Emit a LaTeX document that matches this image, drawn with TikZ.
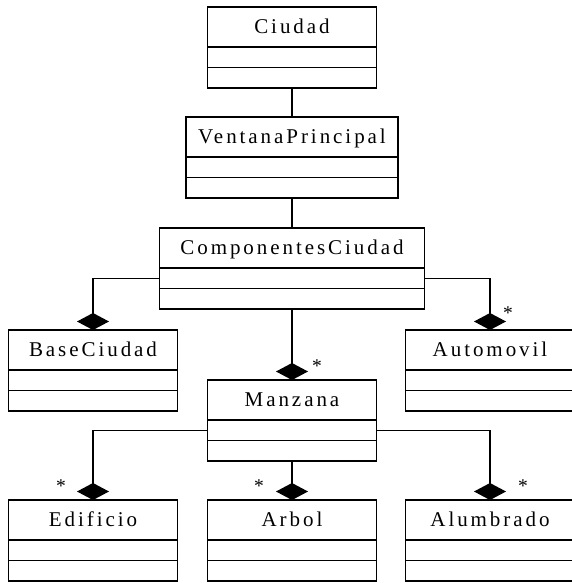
\documentclass[tikz,border=0pt]{standalone}
\usepackage{fontspec}
\setmainfont{Liberation Serif}[LetterSpace=14]
\usetikzlibrary{positioning,arrows.meta}

\tikzset{
  classname/.style={draw, line width=1.2pt, outer sep=0pt, inner sep=0pt,
    minimum width=169pt, minimum height=40pt, text height=15pt, text depth=2pt,
    font=\fontsize{21}{24}\selectfont},
  compartment/.style={draw, line width=1.2pt, outer sep=0pt, inner sep=0pt,
    minimum width=169pt, minimum height=20.5pt},
  assoc/.style={line width=1.2pt},
  composition/.style={line width=1.2pt, {Diamond[length=17pt,width=32pt]}-},
  mult/.style={anchor=base, inner sep=0pt, font=\fontsize{19.5}{22}\selectfont}
}

% class box: name, position, width, text
\newcommand\umlclass[4]{%
  \node[classname, minimum width=#3] (#1) at #2 {#4};
  \node[compartment, minimum width=#3, below=0pt of #1] (#1-a) {};
  \node[compartment, minimum width=#3, below=0pt of #1-a] (#1-b) {};
}

\begin{document}
\begin{tikzpicture}[x=1pt,y=-1pt]
  \useasboundingbox (0,0) rectangle (571,583);

  % classes
  \umlclass{ciudad}{(292,27)}{169pt}{Ciudad}
  \umlclass{ventana}{(292,137)}{212pt}{VentanaPrincipal}
  \draw[line width=2.4pt] (ventana.south west) -- (ventana.south east);
  \umlclass{comp}{(292,248)}{265pt}{ComponentesCiudad}
  \umlclass{base}{(93,350)}{169pt}{BaseCiudad}
  \umlclass{auto}{(490,350)}{169pt}{Automovil}
  \umlclass{manzana}{(292,400)}{169pt}{Manzana}
  \umlclass{edificio}{(93,520)}{169pt}{Edificio}
  \umlclass{arbol}{(292,520)}{169pt}{Arbol}
  \umlclass{alumbrado}{(490,520)}{169pt}{Alumbrado}

  % associations
  \draw[assoc] (ciudad-b.south) -- (ventana.north);
  \draw[assoc] (ventana-b.south) -- (comp.north);

  % compositions
  \draw[composition] (base.north) |- (comp-a.west);
  \draw[composition] (auto.north) |- (comp-a.east);
  \draw[composition] (manzana.north) -- (comp-b.south);
  \draw[composition] (edificio.north) |- (manzana-a.west);
  \draw[composition] (arbol.north) -- (manzana-b.south);
  \draw[composition] (alumbrado.north) |- (manzana-a.east);

  % multiplicities
  \node[mult] (m-auto) at ([xshift=18pt,yshift=11pt]auto.north) {*};
  \node[mult] (m-manzana) at ([xshift=25pt,yshift=7.5pt]manzana.north) {*};
  \node[mult] (m-edificio) at ([xshift=-32pt,yshift=7.5pt]edificio.north) {*};
  \node[mult] (m-arbol) at ([xshift=-33pt,yshift=7.5pt]arbol.north) {*};
  \node[mult] (m-alumbrado) at ([xshift=33pt,yshift=7.5pt]alumbrado.north) {*};
\end{tikzpicture}
\end{document}
